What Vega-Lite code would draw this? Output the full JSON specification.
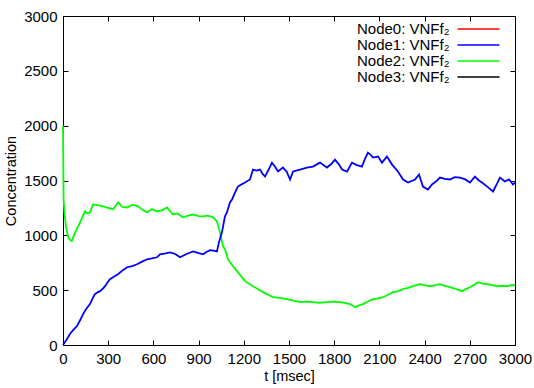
{
  "$schema": "https://vega.github.io/schema/vega-lite/v6.json",
  "width": 452,
  "height": 329,
  "autosize": {"type": "none"},
  "padding": {"left": 63, "top": 16, "right": 19, "bottom": 43},
  "background": "white",
  "config": {
    "font": "Liberation Sans",
    "view": {"stroke": "black", "strokeWidth": 1},
    "axis": {
      "domainColor": "black", "tickColor": "black", "labelColor": "black", "titleColor": "black",
      "labelFont": "Liberation Sans", "titleFont": "Liberation Sans",
      "labelFontSize": 15, "titleFontSize": 14.5, "titleFontWeight": "normal",
      "grid": false, "tickSize": -5, "domainWidth": 1, "tickWidth": 1,
      "labelPadding": 11, "labelOverlap": false, "labelFlush": false, "format": "d"
    }
  },
  "datasets": {
    "series": [
      {"node": "Node2", "t": 0, "v": 2000}, {"node": "Node2", "t": 4, "v": 1330}, {"node": "Node2", "t": 10, "v": 1200}, {"node": "Node2", "t": 20, "v": 1080}, {"node": "Node2", "t": 33, "v": 990}, {"node": "Node2", "t": 45, "v": 960}, {"node": "Node2", "t": 58, "v": 948}, {"node": "Node2", "t": 70, "v": 990}, {"node": "Node2", "t": 80, "v": 1027}, {"node": "Node2", "t": 100, "v": 1080}, {"node": "Node2", "t": 113, "v": 1118}, {"node": "Node2", "t": 130, "v": 1170}, {"node": "Node2", "t": 146, "v": 1218}, {"node": "Node2", "t": 165, "v": 1200}, {"node": "Node2", "t": 179, "v": 1209}, {"node": "Node2", "t": 199, "v": 1282}, {"node": "Node2", "t": 230, "v": 1275}, {"node": "Node2", "t": 265, "v": 1264}, {"node": "Node2", "t": 300, "v": 1250}, {"node": "Node2", "t": 332, "v": 1236}, {"node": "Node2", "t": 365, "v": 1300}, {"node": "Node2", "t": 395, "v": 1260}, {"node": "Node2", "t": 425, "v": 1254}, {"node": "Node2", "t": 460, "v": 1280}, {"node": "Node2", "t": 498, "v": 1264}, {"node": "Node2", "t": 530, "v": 1230}, {"node": "Node2", "t": 558, "v": 1209}, {"node": "Node2", "t": 590, "v": 1240}, {"node": "Node2", "t": 624, "v": 1218}, {"node": "Node2", "t": 660, "v": 1230}, {"node": "Node2", "t": 690, "v": 1254}, {"node": "Node2", "t": 730, "v": 1190}, {"node": "Node2", "t": 760, "v": 1200}, {"node": "Node2", "t": 796, "v": 1164}, {"node": "Node2", "t": 830, "v": 1180}, {"node": "Node2", "t": 863, "v": 1190}, {"node": "Node2", "t": 900, "v": 1175}, {"node": "Node2", "t": 929, "v": 1173}, {"node": "Node2", "t": 960, "v": 1180}, {"node": "Node2", "t": 996, "v": 1164}, {"node": "Node2", "t": 1022, "v": 1127}, {"node": "Node2", "t": 1042, "v": 1027}, {"node": "Node2", "t": 1062, "v": 900}, {"node": "Node2", "t": 1075, "v": 873}, {"node": "Node2", "t": 1095, "v": 782}, {"node": "Node2", "t": 1128, "v": 718}, {"node": "Node2", "t": 1161, "v": 664}, {"node": "Node2", "t": 1208, "v": 582}, {"node": "Node2", "t": 1261, "v": 536}, {"node": "Node2", "t": 1327, "v": 482}, {"node": "Node2", "t": 1394, "v": 436}, {"node": "Node2", "t": 1440, "v": 430}, {"node": "Node2", "t": 1487, "v": 418}, {"node": "Node2", "t": 1530, "v": 405}, {"node": "Node2", "t": 1573, "v": 391}, {"node": "Node2", "t": 1620, "v": 395}, {"node": "Node2", "t": 1659, "v": 391}, {"node": "Node2", "t": 1700, "v": 385}, {"node": "Node2", "t": 1752, "v": 391}, {"node": "Node2", "t": 1800, "v": 395}, {"node": "Node2", "t": 1838, "v": 391}, {"node": "Node2", "t": 1870, "v": 385}, {"node": "Node2", "t": 1905, "v": 373}, {"node": "Node2", "t": 1938, "v": 345}, {"node": "Node2", "t": 1960, "v": 360}, {"node": "Node2", "t": 1991, "v": 373}, {"node": "Node2", "t": 2020, "v": 395}, {"node": "Node2", "t": 2057, "v": 418}, {"node": "Node2", "t": 2090, "v": 425}, {"node": "Node2", "t": 2124, "v": 436}, {"node": "Node2", "t": 2160, "v": 460}, {"node": "Node2", "t": 2190, "v": 482}, {"node": "Node2", "t": 2220, "v": 490}, {"node": "Node2", "t": 2257, "v": 509}, {"node": "Node2", "t": 2290, "v": 520}, {"node": "Node2", "t": 2323, "v": 536}, {"node": "Node2", "t": 2369, "v": 555}, {"node": "Node2", "t": 2400, "v": 545}, {"node": "Node2", "t": 2436, "v": 536}, {"node": "Node2", "t": 2470, "v": 545}, {"node": "Node2", "t": 2502, "v": 555}, {"node": "Node2", "t": 2535, "v": 540}, {"node": "Node2", "t": 2568, "v": 527}, {"node": "Node2", "t": 2610, "v": 510}, {"node": "Node2", "t": 2648, "v": 491}, {"node": "Node2", "t": 2675, "v": 510}, {"node": "Node2", "t": 2701, "v": 527}, {"node": "Node2", "t": 2730, "v": 550}, {"node": "Node2", "t": 2754, "v": 573}, {"node": "Node2", "t": 2785, "v": 560}, {"node": "Node2", "t": 2814, "v": 555}, {"node": "Node2", "t": 2850, "v": 545}, {"node": "Node2", "t": 2880, "v": 536}, {"node": "Node2", "t": 2915, "v": 540}, {"node": "Node2", "t": 2947, "v": 536}, {"node": "Node2", "t": 2970, "v": 545}, {"node": "Node2", "t": 3000, "v": 545},
      {"node": "Node1", "t": 0, "v": 0}, {"node": "Node1", "t": 20, "v": 40}, {"node": "Node1", "t": 46, "v": 100}, {"node": "Node1", "t": 70, "v": 140}, {"node": "Node1", "t": 93, "v": 173}, {"node": "Node1", "t": 115, "v": 230}, {"node": "Node1", "t": 133, "v": 282}, {"node": "Node1", "t": 155, "v": 330}, {"node": "Node1", "t": 179, "v": 373}, {"node": "Node1", "t": 195, "v": 420}, {"node": "Node1", "t": 212, "v": 464}, {"node": "Node1", "t": 230, "v": 480}, {"node": "Node1", "t": 245, "v": 491}, {"node": "Node1", "t": 262, "v": 510}, {"node": "Node1", "t": 279, "v": 536}, {"node": "Node1", "t": 295, "v": 570}, {"node": "Node1", "t": 312, "v": 600}, {"node": "Node1", "t": 340, "v": 625}, {"node": "Node1", "t": 365, "v": 645}, {"node": "Node1", "t": 395, "v": 680}, {"node": "Node1", "t": 425, "v": 709}, {"node": "Node1", "t": 460, "v": 720}, {"node": "Node1", "t": 491, "v": 736}, {"node": "Node1", "t": 525, "v": 760}, {"node": "Node1", "t": 558, "v": 782}, {"node": "Node1", "t": 590, "v": 790}, {"node": "Node1", "t": 624, "v": 800}, {"node": "Node1", "t": 644, "v": 827}, {"node": "Node1", "t": 680, "v": 835}, {"node": "Node1", "t": 710, "v": 845}, {"node": "Node1", "t": 745, "v": 830}, {"node": "Node1", "t": 777, "v": 800}, {"node": "Node1", "t": 820, "v": 830}, {"node": "Node1", "t": 863, "v": 854}, {"node": "Node1", "t": 895, "v": 840}, {"node": "Node1", "t": 929, "v": 827}, {"node": "Node1", "t": 955, "v": 850}, {"node": "Node1", "t": 976, "v": 864}, {"node": "Node1", "t": 1000, "v": 860}, {"node": "Node1", "t": 1022, "v": 854}, {"node": "Node1", "t": 1035, "v": 936}, {"node": "Node1", "t": 1055, "v": 1027}, {"node": "Node1", "t": 1075, "v": 1173}, {"node": "Node1", "t": 1088, "v": 1209}, {"node": "Node1", "t": 1108, "v": 1300}, {"node": "Node1", "t": 1122, "v": 1327}, {"node": "Node1", "t": 1142, "v": 1391}, {"node": "Node1", "t": 1161, "v": 1445}, {"node": "Node1", "t": 1185, "v": 1465}, {"node": "Node1", "t": 1208, "v": 1482}, {"node": "Node1", "t": 1241, "v": 1509}, {"node": "Node1", "t": 1261, "v": 1600}, {"node": "Node1", "t": 1285, "v": 1590}, {"node": "Node1", "t": 1307, "v": 1600}, {"node": "Node1", "t": 1325, "v": 1560}, {"node": "Node1", "t": 1341, "v": 1536}, {"node": "Node1", "t": 1365, "v": 1600}, {"node": "Node1", "t": 1387, "v": 1663}, {"node": "Node1", "t": 1410, "v": 1620}, {"node": "Node1", "t": 1427, "v": 1582}, {"node": "Node1", "t": 1460, "v": 1618}, {"node": "Node1", "t": 1485, "v": 1580}, {"node": "Node1", "t": 1507, "v": 1509}, {"node": "Node1", "t": 1527, "v": 1582}, {"node": "Node1", "t": 1573, "v": 1600}, {"node": "Node1", "t": 1619, "v": 1618}, {"node": "Node1", "t": 1659, "v": 1627}, {"node": "Node1", "t": 1706, "v": 1663}, {"node": "Node1", "t": 1730, "v": 1640}, {"node": "Node1", "t": 1752, "v": 1618}, {"node": "Node1", "t": 1780, "v": 1650}, {"node": "Node1", "t": 1805, "v": 1691}, {"node": "Node1", "t": 1830, "v": 1650}, {"node": "Node1", "t": 1852, "v": 1600}, {"node": "Node1", "t": 1885, "v": 1582}, {"node": "Node1", "t": 1918, "v": 1663}, {"node": "Node1", "t": 1950, "v": 1640}, {"node": "Node1", "t": 1984, "v": 1627}, {"node": "Node1", "t": 2005, "v": 1700}, {"node": "Node1", "t": 2024, "v": 1754}, {"node": "Node1", "t": 2045, "v": 1730}, {"node": "Node1", "t": 2057, "v": 1709}, {"node": "Node1", "t": 2091, "v": 1718}, {"node": "Node1", "t": 2117, "v": 1663}, {"node": "Node1", "t": 2150, "v": 1718}, {"node": "Node1", "t": 2184, "v": 1645}, {"node": "Node1", "t": 2223, "v": 1582}, {"node": "Node1", "t": 2257, "v": 1509}, {"node": "Node1", "t": 2290, "v": 1482}, {"node": "Node1", "t": 2336, "v": 1509}, {"node": "Node1", "t": 2363, "v": 1554}, {"node": "Node1", "t": 2389, "v": 1445}, {"node": "Node1", "t": 2422, "v": 1418}, {"node": "Node1", "t": 2449, "v": 1464}, {"node": "Node1", "t": 2475, "v": 1490}, {"node": "Node1", "t": 2502, "v": 1527}, {"node": "Node1", "t": 2535, "v": 1515}, {"node": "Node1", "t": 2568, "v": 1509}, {"node": "Node1", "t": 2600, "v": 1530}, {"node": "Node1", "t": 2635, "v": 1527}, {"node": "Node1", "t": 2670, "v": 1510}, {"node": "Node1", "t": 2701, "v": 1482}, {"node": "Node1", "t": 2734, "v": 1536}, {"node": "Node1", "t": 2760, "v": 1500}, {"node": "Node1", "t": 2781, "v": 1482}, {"node": "Node1", "t": 2820, "v": 1440}, {"node": "Node1", "t": 2854, "v": 1400}, {"node": "Node1", "t": 2880, "v": 1470}, {"node": "Node1", "t": 2900, "v": 1527}, {"node": "Node1", "t": 2933, "v": 1491}, {"node": "Node1", "t": 2960, "v": 1510}, {"node": "Node1", "t": 2987, "v": 1464}, {"node": "Node1", "t": 3000, "v": 1480}
    ]
  },
  "layer": [
    {
      "data": {"name": "series"},
      "mark": {"type": "line", "strokeWidth": 1.8},
      "encoding": {
        "x": {"field": "t", "type": "quantitative", "scale": {"domain": [0, 3000], "nice": false},
          "axis": {"orient": "bottom", "values": [0, 300, 600, 900, 1200, 1500, 1800, 2100, 2400, 2700, 3000], "title": "t [msec]", "titlePadding": 3}},
        "y": {"field": "v", "type": "quantitative", "scale": {"domain": [0, 3000], "nice": false},
          "axis": {"orient": "left", "values": [0, 500, 1000, 1500, 2000, 2500, 3000], "title": "Concentration", "titlePadding": 5}},
        "color": {"field": "node", "type": "nominal",
          "scale": {"domain": ["Node0", "Node1", "Node2", "Node3"], "range": ["#ff0000", "#0000ff", "#00ff00", "#000000"]},
          "legend": {"orient": "none", "legendX": 387, "legendY": 5.5, "title": null,
            "symbolType": "M0,0H42", "symbolSize": 4, "symbolStrokeWidth": 1.5,
            "labelAlign": "right", "labelOffset": -15.5, "labelFontSize": 15, "labelFont": "Liberation Sans", "labelColor": "black",
            "rowPadding": 0, "padding": 0, "labelLimit": 0,
            "labelExpr": "datum.label + ': VNFf₂'"}}
      }
    },
    {
      "data": {"name": "series"},
      "mark": {"type": "point", "opacity": 0},
      "encoding": {
        "x": {"field": "t", "type": "quantitative", "axis": {"orient": "top", "values": [0, 300, 600, 900, 1200, 1500, 1800, 2100, 2400, 2700, 3000], "labels": false, "title": null}},
        "y": {"field": "v", "type": "quantitative", "axis": {"orient": "right", "values": [0, 500, 1000, 1500, 2000, 2500, 3000], "labels": false, "title": null}}
      }
    }
  ],
  "resolve": {"axis": {"x": "independent", "y": "independent"}}
}
